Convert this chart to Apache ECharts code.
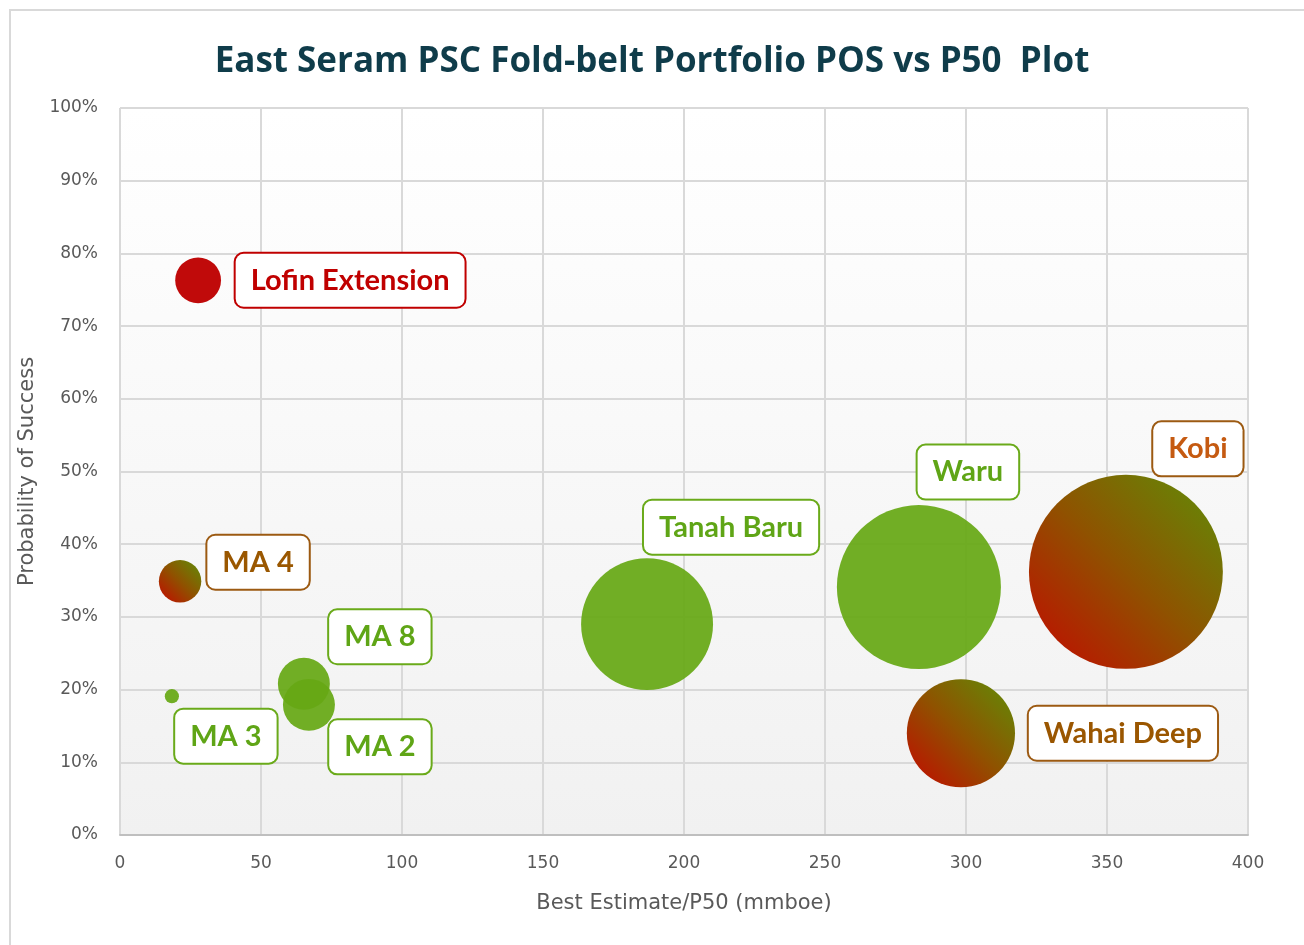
<!DOCTYPE html>
<html><head><meta charset="utf-8">
<script src="https://cdn.jsdelivr.net/npm/echarts@6/dist/echarts.min.js"></script>
<style>
html,body{margin:0;padding:0;background:#fff;}
#frame{position:absolute;left:9px;top:9px;width:1300px;height:940px;border:2px solid #d9d9d9;box-sizing:border-box;}
#chart{position:absolute;left:0;top:0;width:1304px;height:945px;}
</style></head>
<body>
<div id="frame"></div>
<div id="chart"></div>
<script>
// ---- data ----
const prospects = ["Lofin Extension","MA 4","MA 3","MA 8","MA 2","Tanah Baru","Waru","Kobi","Wahai Deep"];
const p50 = [27.7, 21.3, 18.4, 65.2, 67.0, 186.9, 283.3, 356.7, 298.2];   // mmboe
const pos = [0.763, 0.349, 0.191, 0.208, 0.179, 0.290, 0.341, 0.362, 0.140]; // probability
const bubbleSize = [21, 18, 2, 27, 27, 174, 269, 376, 117];
const group = ["red","mixed","green","green","green","green","green","mixed","mixed"];
const xTicks = [0,50,100,150,200,250,300,350,400];
const yTicks = [0,0.1,0.2,0.3,0.4,0.5,0.6,0.7,0.8,0.9,1.0];

// ---- styles (not data) ----
const labelOffset = {
  "Lofin Extension":[152,0],"MA 4":[78,-19],"MA 3":[54,40],"MA 8":[76,-47],"MA 2":[71,42],
  "Tanah Baru":[84,-97],"Waru":[49,-115],"Kobi":[72,-123],"Wahai Deep":[162,0]
};
const labelColor = {"MA 4":"#9a5700","Kobi":"#c55a11","Wahai Deep":"#9a5600"};
const mixedFill = new echarts.graphic.LinearGradient(0,1,1,0,[
  {offset:0,color:'#c40800'},{offset:0.5,color:'#8f5200'},{offset:1,color:'#5f8f08'}]);
const fills = {green:'rgba(102,168,20,0.93)', red:'#c00a0a', mixed:mixedFill};
const borders = {green:'#6aaa1a', red:'#c00000', mixed:'#9c5a12'};
const texts = {green:'#5fa516', red:'#c00000', mixed:'#9a5700'};

const data = prospects.map((n,i)=>{
  const g = group[i];
  return {
    name:n,
    value:[p50[i], pos[i], bubbleSize[i]],
    itemStyle:{color:fills[g], opacity:1},
    label:{
      show:true, formatter:n, position:'inside',
      color: labelColor[n] || texts[g], fontFamily:'Lato', fontWeight:'bold', fontSize:29,
      backgroundColor:'#ffffff', borderColor:borders[g], borderWidth:2, borderRadius:8,
      padding:[12,15,12,15], align:'center', verticalAlign:'middle'
    }
  };
});
// draw bigger bubbles first
const order = data.map((d,i)=>i).sort((a,b)=>bubbleSize[b]-bubbleSize[a]);
const sorted = order.map(i=>data[i]);

const chart = echarts.init(document.getElementById('chart'), null, {renderer:'canvas'});
chart.setOption({
  animation:false,
  title:{text:'East Seram PSC Fold-belt Portfolio POS vs P50  Plot', left:'center', top:40,
    textStyle:{fontFamily:'Open Sans', fontWeight:'bold', fontSize:35, color:'#0f3c4a'}},
  grid:{left:120, right:56, top:108, bottom:110, show:true, borderWidth:0,
    backgroundColor:new echarts.graphic.LinearGradient(0,0,0,1,[{offset:0,color:'#ffffff'},{offset:1,color:'#f1f1f1'}])},
  xAxis:{type:'value', min:xTicks[0], max:xTicks[xTicks.length-1], interval:50,
    name:'Best Estimate/P50 (mmboe)', nameLocation:'middle', nameGap:58,
    nameTextStyle:{fontFamily:'DejaVu Sans', fontSize:21, color:'#595959'},
    axisLine:{show:true, lineStyle:{color:'#bfbfbf', width:2}}, axisTick:{show:false},
    axisLabel:{fontFamily:'DejaVu Sans', fontSize:17, color:'#595959', margin:20},
    splitLine:{show:true, lineStyle:{color:'#d9d9d9', width:2}}},
  yAxis:{type:'value', min:yTicks[0], max:yTicks[yTicks.length-1], interval:0.1,
    name:'Probability of Success', nameLocation:'middle', nameGap:80,
    nameTextStyle:{fontFamily:'DejaVu Sans', fontSize:21, color:'#595959'},
    axisLine:{show:false}, axisTick:{show:false},
    axisLabel:{fontFamily:'DejaVu Sans', fontSize:17, color:'#595959', margin:22,
      formatter:v=>Math.round(v*100)+'%'},
    splitLine:{show:true, lineStyle:{color:'#d9d9d9', width:2}}},
  series:[{type:'scatter', data:sorted, symbolSize:v=>Math.sqrt(v[2])*10,
    labelLayout:function(p){ const o = labelOffset[sorted[p.dataIndex].name]; return {dx:o[0], dy:o[1]}; },
    emphasis:{disabled:true}, z:3}]
});
</script>
</body></html>
